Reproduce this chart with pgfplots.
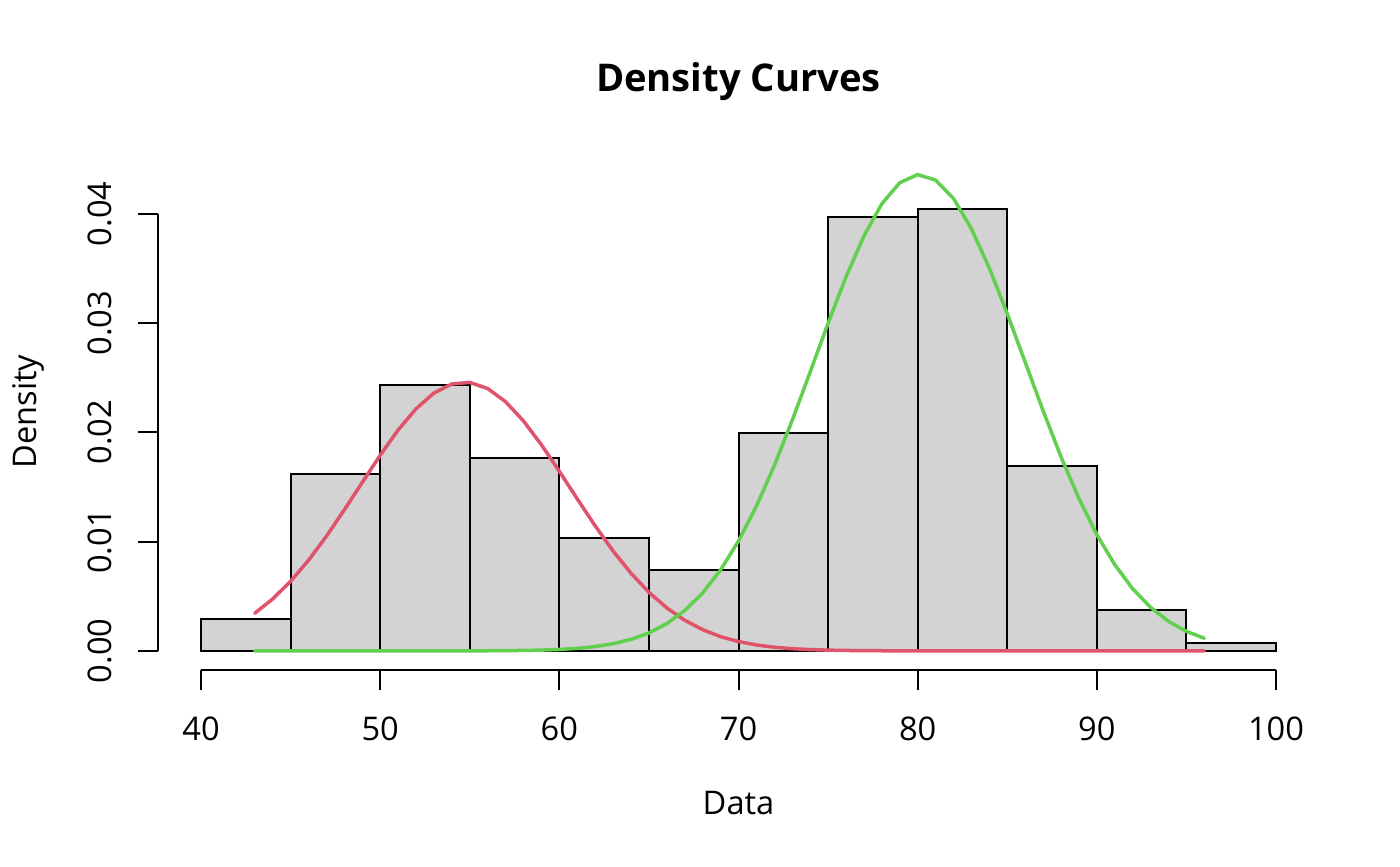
\documentclass[border=0pt]{standalone}
\usepackage{pgfplots}
\pgfplotsset{compat=1.18}
\usepackage{fontspec}
\setmainfont{Open Sans}
\definecolor{rred}{HTML}{DF536B}
\definecolor{rgreen}{HTML}{61D04F}
\definecolor{rgray}{HTML}{D3D3D3}
\begin{document}
\begin{tikzpicture}
\useasboundingbox (-79pt,-98pt) rectangle (621pt,335pt);
\begin{axis}[
  scale only axis, width=580.5pt, height=258.4pt,
  xmin=37.6, xmax=102.4, ymin=-0.001752, ymax=0.04555,
  axis x line*=bottom, axis y line*=left,
  axis line style={draw=none},
  xtick={40,50,60,70,80,90,100},
  ytick={0,0.01,0.02,0.03,0.04},
  scaled y ticks=false,
  tick align=outside, major tick length=10pt,
  tick style={black, line width=1pt},
  /pgf/number format/.cd, fixed, fixed zerofill, precision=2, assume math mode=true,
  /pgfplots/.cd,
  xticklabel style={/pgf/number format/precision=0, /pgf/number format/fixed zerofill=false},
  tick label style={font=\fontsize{16.3}{20}\selectfont},
  yticklabel style={rotate=90, anchor=south},
  xticklabel shift=10pt, yticklabel shift=9.5pt,
  label style={font=\fontsize{16.3}{20}\selectfont},
  xlabel={Data}, ylabel={Density},
  xlabel style={at={(axis description cs:0.5,-0.2573)}, anchor=center},
  ylabel style={at={(axis description cs:-0.112,0.5)}, anchor=center},
  title={Density Curves},
  title style={at={(axis description cs:0.5,1.116)}, anchor=center, yshift=0pt, font=\fontsize{19.1}{23}\selectfont\bfseries},
  clip=false,
]
\addplot[ybar interval, fill=rgray, draw=black, line width=1pt] coordinates {
(40,0.00293) (45,0.0162) (50,0.02435) (55,0.01767) (60,0.01034) (65,0.00741)
(70,0.01995) (75,0.03973) (80,0.04046) (85,0.01693) (90,0.00375) (95,0.00073) (100,0)
};
\addplot[rred, line width=1.75pt, line join=round, line cap=round] coordinates {
(43,0.00344) (44,0.00475) (45,0.00637) (46,0.00829) (47,0.01049) (48,0.01291)
(49,0.01542) (50,0.01790) (51,0.02021) (52,0.02215) (53,0.02360) (54,0.02443)
(55,0.02457) (56,0.02401) (57,0.02280) (58,0.02104) (59,0.01886) (60,0.01643)
(61,0.01391) (62,0.01144) (63,0.00914) (64,0.00710) (65,0.00536) (66,0.00393)
(67,0.00280) (68,0.00194) (69,0.00130) (70,0.00085) (71,0.00054) (72,0.00033)
(73,0.00020) (74,0.000117) (75,0.000066) (76,0.000036) (77,0.000019) (78,0.00001)
(79,0) (80,0) (81,0) (82,0) (83,0) (84,0) (85,0) (86,0) (87,0) (88,0) (89,0)
(90,0) (91,0) (92,0) (93,0) (94,0) (95,0) (96,0)
};
\addplot[rgreen, line width=1.75pt, line join=round, line cap=round] coordinates {
(43,0) (44,0) (45,0) (46,0) (47,0) (48,0) (49,0) (50,0) (51,0) (52,0) (53,0)
(54,0) (55,0.000005) (56,0.00001) (57,0.00002) (58,0.000039) (59,0.00007)
(60,0.00013) (61,0.000229) (62,0.00039) (63,0.00065) (64,0.00105) (65,0.00164)
(66,0.00250) (67,0.00369) (68,0.00530) (69,0.00741) (70,0.01005) (71,0.01325)
(72,0.01696) (73,0.02111) (74,0.02552) (75,0.02999) (76,0.03423) (77,0.03797)
(78,0.04092) (79,0.04285) (80,0.04359) (81,0.04309) (82,0.04140) (83,0.03863)
(84,0.03503) (85,0.03086) (86,0.02642) (87,0.02198) (88,0.01776) (89,0.01395)
(90,0.01064) (91,0.00789) (92,0.00568) (93,0.00398) (94,0.00270) (95,0.00179)
(96,0.00115)
};
\draw[black, line width=1pt] (axis cs:40,-0.001752) -- (axis cs:100,-0.001752);
\draw[black, line width=1pt] (axis cs:37.6,0) -- (axis cs:37.6,0.04);
\end{axis}
\end{tikzpicture}
\end{document}
